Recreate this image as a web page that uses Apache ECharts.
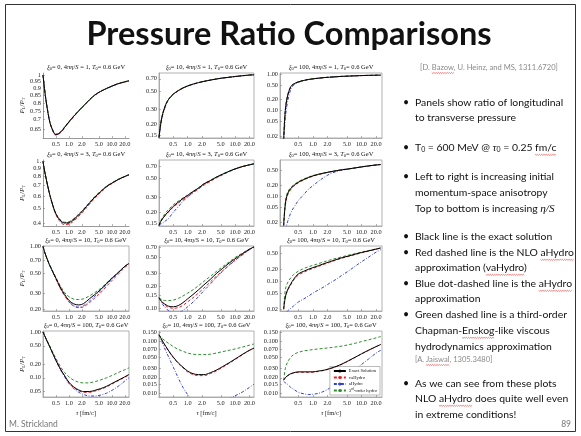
<!DOCTYPE html>
<html><head><meta charset="utf-8">
<script src="https://cdn.jsdelivr.net/npm/echarts@6/dist/echarts.min.js"></script>
<style>html,body{margin:0;padding:0;background:#fff}#c{width:581px;height:436px}</style>
</head><body><div id="c"></div>
<script>
// ---------- DATA ----------
const tau = [0.25,0.27,0.3,0.35,0.4,0.5,0.65,0.8,1,1.3,1.7,2.2,3,4,5.5,7.5,10,14,20,25];
const xTickLabels = ['0.5','1.0','2.0','5.0','10.0','20.0'];
const xi0Values = ['0','10','100'];
const etaValues = ['1','3','10','100'];
const seriesNames = ['Exact Solution','vaHydro','aHydro','3rd-order hydro'];

// row 1 (4πη/S = 1)
const yTicks_r1c1 = ['1','0.95','0.9','0.85','0.8','0.75','0.7','0.65'];
const exact_r1c1 = [1.0,0.90,0.80,0.70,0.655,0.622,0.635,0.66,0.688,0.72,0.752,0.782,0.82,0.852,0.878,0.898,0.915,0.933,0.947,0.955];
const va_r1c1    = [1.0,0.90,0.80,0.70,0.653,0.619,0.632,0.657,0.685,0.717,0.75,0.78,0.818,0.85,0.877,0.897,0.914,0.932,0.946,0.954];
const ah_r1c1    = [1.0,0.90,0.80,0.70,0.654,0.62,0.633,0.658,0.686,0.718,0.751,0.781,0.819,0.851,0.877,0.897,0.914,0.932,0.946,0.954];
const th_r1c1    = [1.0,0.90,0.80,0.701,0.657,0.624,0.637,0.662,0.69,0.722,0.754,0.784,0.821,0.853,0.879,0.899,0.916,0.934,0.948,0.956];

const yTicks_r1c2 = ['0.70','0.50','0.30','0.20','0.15'];
const exact_r1c2 = [0.14,0.2,0.27,0.35,0.40,0.46,0.51,0.545,0.575,0.605,0.63,0.652,0.675,0.695,0.715,0.73,0.745,0.76,0.775,0.78];
const va_r1c2    = [0.14,0.198,0.267,0.347,0.397,0.457,0.507,0.542,0.572,0.602,0.628,0.65,0.673,0.694,0.714,0.729,0.744,0.759,0.774,0.779];
const ah_r1c2    = [0.14,0.19,0.26,0.34,0.395,0.455,0.506,0.542,0.573,0.603,0.629,0.651,0.674,0.694,0.714,0.729,0.744,0.759,0.774,0.779];
const th_r1c2    = [0.14,0.202,0.272,0.352,0.402,0.462,0.511,0.546,0.576,0.606,0.631,0.653,0.676,0.696,0.716,0.731,0.746,0.761,0.776,0.781];

const yTicks_r1c3 = ['1.00','0.50','0.20','0.10','0.05','0.02'];
const exact_r1c3 = [0.016,0.1,0.25,0.45,0.53,0.61,0.67,0.71,0.74,0.77,0.8,0.82,0.845,0.865,0.88,0.895,0.91,0.92,0.93,0.935];
const va_r1c3    = [0.016,0.095,0.24,0.44,0.525,0.605,0.667,0.708,0.738,0.768,0.798,0.819,0.844,0.864,0.879,0.894,0.909,0.919,0.929,0.934];
const ah_r1c3    = [0.014,0.06,0.17,0.38,0.49,0.59,0.66,0.705,0.737,0.768,0.798,0.82,0.845,0.865,0.88,0.895,0.91,0.92,0.93,0.935];
const th_r1c3    = [0.016,0.105,0.26,0.46,0.54,0.615,0.673,0.712,0.742,0.772,0.801,0.821,0.846,0.866,0.881,0.896,0.911,0.921,0.931,0.936];

// row 2 (4πη/S = 3)
const yTicks_r2c1 = ['1.','0.9','0.8','0.7','0.6','0.5','0.4'];
const exact_r2c1 = [1.0,0.88,0.76,0.63,0.55,0.46,0.415,0.403,0.405,0.425,0.455,0.49,0.54,0.59,0.64,0.69,0.725,0.765,0.80,0.82];
const va_r2c1    = [1.0,0.88,0.76,0.628,0.546,0.455,0.405,0.393,0.395,0.415,0.445,0.48,0.53,0.58,0.632,0.683,0.72,0.762,0.798,0.818];
const ah_r2c1    = [1.0,0.88,0.76,0.629,0.548,0.457,0.41,0.398,0.40,0.42,0.45,0.486,0.537,0.588,0.638,0.688,0.724,0.764,0.8,0.82];
const th_r2c1    = [1.0,0.88,0.76,0.631,0.552,0.463,0.418,0.407,0.41,0.43,0.46,0.495,0.545,0.595,0.645,0.693,0.728,0.767,0.802,0.822];

const yTicks_r2c2 = ['0.70','0.50','0.30','0.20','0.15'];
const exact_r2c2 = [0.14,0.155,0.17,0.19,0.205,0.235,0.265,0.29,0.315,0.35,0.385,0.43,0.47,0.515,0.56,0.605,0.645,0.685,0.72,0.74];
const va_r2c2    = [0.14,0.154,0.168,0.187,0.202,0.23,0.258,0.282,0.305,0.34,0.375,0.415,0.46,0.505,0.55,0.598,0.64,0.682,0.718,0.738];
const ah_r2c2    = [0.14,0.145,0.15,0.16,0.17,0.2,0.235,0.27,0.3,0.34,0.378,0.425,0.468,0.513,0.558,0.603,0.644,0.684,0.72,0.74];
const th_r2c2    = [0.14,0.158,0.175,0.2,0.215,0.245,0.272,0.295,0.318,0.352,0.387,0.432,0.472,0.517,0.562,0.607,0.647,0.687,0.722,0.742];

const yTicks_r2c3 = ['0.50','0.20','0.10','0.05','0.02'];
const exact_r2c3 = [0.016,0.06,0.115,0.16,0.19,0.235,0.28,0.315,0.35,0.385,0.418,0.448,0.482,0.512,0.542,0.577,0.612,0.652,0.69,0.71];
const va_r2c3    = [0.016,0.055,0.105,0.15,0.182,0.227,0.272,0.307,0.343,0.378,0.411,0.443,0.478,0.509,0.54,0.575,0.61,0.65,0.688,0.708];
const ah_r2c3    = [0.008,0.012,0.02,0.035,0.048,0.075,0.11,0.15,0.19,0.25,0.32,0.39,0.455,0.5,0.535,0.572,0.608,0.648,0.688,0.708];
const th_r2c3    = [0.016,0.068,0.125,0.17,0.2,0.245,0.29,0.323,0.357,0.39,0.422,0.452,0.486,0.516,0.545,0.58,0.614,0.654,0.692,0.712];

// row 3 (4πη/S = 10)
const yTicks_r3c1 = ['1.00','0.70','0.50','0.30','0.20'];
const exact_r3c1 = [1.0,0.88,0.76,0.63,0.55,0.44,0.34,0.29,0.25,0.228,0.222,0.23,0.26,0.29,0.33,0.385,0.44,0.51,0.6,0.645];
const va_r3c1    = [1.0,0.88,0.76,0.628,0.546,0.433,0.33,0.28,0.24,0.215,0.207,0.212,0.235,0.265,0.305,0.358,0.415,0.488,0.582,0.63];
const ah_r3c1    = [1.0,0.88,0.76,0.629,0.547,0.435,0.333,0.283,0.243,0.218,0.21,0.218,0.245,0.277,0.32,0.375,0.432,0.505,0.595,0.642];
const th_r3c1    = [1.0,0.88,0.76,0.632,0.555,0.45,0.355,0.305,0.275,0.258,0.255,0.26,0.28,0.305,0.34,0.39,0.445,0.512,0.598,0.643];

const yTicks_r3c2 = ['0.70','0.50','0.30','0.20','0.15','0.10'];
const exact_r3c2 = [0.14,0.13,0.12,0.112,0.107,0.105,0.11,0.12,0.135,0.155,0.18,0.21,0.25,0.3,0.355,0.42,0.48,0.56,0.65,0.7];
const va_r3c2    = [0.14,0.129,0.118,0.108,0.103,0.1,0.103,0.11,0.123,0.14,0.163,0.19,0.23,0.275,0.33,0.395,0.46,0.54,0.64,0.695];
const ah_r3c2    = [0.14,0.127,0.113,0.1,0.093,0.088,0.088,0.094,0.105,0.122,0.145,0.175,0.215,0.265,0.325,0.39,0.455,0.54,0.64,0.695];
const th_r3c2    = [0.14,0.136,0.13,0.128,0.128,0.13,0.138,0.148,0.162,0.18,0.205,0.235,0.275,0.32,0.375,0.435,0.5,0.57,0.655,0.7];

const yTicks_r3c3 = ['0.50','0.20','0.10','0.05','0.02'];
const exact_r3c3 = [0.02,0.04,0.06,0.085,0.11,0.15,0.175,0.195,0.215,0.24,0.27,0.3,0.34,0.38,0.42,0.465,0.51,0.56,0.62,0.66];
const va_r3c3    = [0.02,0.038,0.057,0.08,0.105,0.14,0.165,0.185,0.205,0.23,0.26,0.29,0.33,0.37,0.41,0.455,0.5,0.55,0.615,0.655];
const ah_r3c3    = [0.012,0.015,0.018,0.021,0.024,0.03,0.036,0.042,0.05,0.06,0.072,0.088,0.11,0.14,0.18,0.235,0.3,0.39,0.52,0.6];
const th_r3c3    = [0.02,0.06,0.09,0.12,0.145,0.175,0.205,0.225,0.245,0.27,0.3,0.33,0.365,0.4,0.44,0.48,0.52,0.57,0.625,0.665];

// row 4 (4πη/S = 100)
const yTicks_r4c1 = ['1.00','0.50','0.20','0.10','0.05'];
const exact_r4c1 = [1.0,0.85,0.68,0.5,0.38,0.24,0.15,0.11,0.08,0.063,0.054,0.05,0.05,0.053,0.058,0.065,0.075,0.088,0.105,0.118];
const va_r4c1    = [1.0,0.85,0.68,0.5,0.378,0.238,0.148,0.108,0.078,0.061,0.052,0.048,0.048,0.051,0.056,0.063,0.073,0.086,0.103,0.116];
const ah_r4c1    = [1.0,0.85,0.68,0.5,0.378,0.236,0.145,0.104,0.075,0.058,0.048,0.043,0.04,0.04,0.042,0.046,0.053,0.065,0.085,0.1];
const th_r4c1    = [1.0,0.85,0.69,0.52,0.4,0.265,0.17,0.13,0.105,0.088,0.08,0.077,0.078,0.082,0.09,0.1,0.112,0.13,0.15,0.165];

const yTicks_r4c2 = ['0.150','0.100','0.070','0.050','0.030','0.020','0.015','0.010'];
const exact_r4c2 = [0.135,0.12,0.1,0.08,0.066,0.05,0.038,0.032,0.027,0.024,0.023,0.023,0.025,0.028,0.033,0.039,0.046,0.056,0.068,0.075];
const va_r4c2    = [0.135,0.119,0.099,0.079,0.065,0.049,0.037,0.031,0.026,0.023,0.022,0.022,0.024,0.027,0.032,0.038,0.045,0.055,0.067,0.074];
const ah_r4c2    = [0.135,0.115,0.09,0.065,0.05,0.032,0.019,0.013,0.0095,0.0072,0.0063,0.006,0.0061,0.0064,0.007,0.0078,0.009,0.0105,0.013,0.015];
const th_r4c2    = [0.135,0.125,0.113,0.1,0.092,0.08,0.07,0.065,0.06,0.057,0.056,0.056,0.057,0.06,0.064,0.068,0.072,0.078,0.085,0.09];

const yTicks_r4c3 = ['0.150','0.100','0.070','0.050','0.030','0.020','0.015','0.010'];
const exact_r4c3 = [0.018,0.02,0.022,0.024,0.025,0.026,0.026,0.026,0.026,0.027,0.028,0.03,0.033,0.037,0.043,0.05,0.058,0.068,0.08,0.088];
const va_r4c3    = [0.018,0.0198,0.0217,0.0236,0.0246,0.0255,0.0255,0.0255,0.0256,0.0266,0.0277,0.0297,0.0327,0.0367,0.0427,0.0497,0.0577,0.0677,0.0797,0.0877];
const ah_r4c3    = [0.017,0.016,0.015,0.013,0.012,0.0105,0.0098,0.0095,0.0096,0.01,0.011,0.0125,0.015,0.018,0.023,0.029,0.036,0.046,0.06,0.068];
const th_r4c3    = [0.018,0.03,0.04,0.05,0.056,0.062,0.066,0.068,0.07,0.072,0.074,0.076,0.079,0.082,0.087,0.093,0.1,0.108,0.118,0.125];

// ---------- LAYOUT ----------
const colLeft = [43,159,280], colWidth = [86,95,102];
const rowTop = [73,160,246,331], rowHeight = [65,66,65,66];
const xRanges = [[0.25,25],[0.25,25],[0.21,26.5]];
const yRanges = [
  [[0.605,1.016],[0.138,0.82],[0.0176,1.07]],
  [[0.385,1.02],[0.138,0.82],[0.0155,0.94]],
  [[0.19,1.01],[0.092,0.72],[0.018,0.74]],
  [[0.038,1.05],[0.0085,0.16],[0.0085,0.16]]
];
const framed = [[false,true,true],[false,true,true],[true,true,true],[true,true,true]];
const D = {
  r1c1:[exact_r1c1,va_r1c1,ah_r1c1,th_r1c1,yTicks_r1c1], r1c2:[exact_r1c2,va_r1c2,ah_r1c2,th_r1c2,yTicks_r1c2], r1c3:[exact_r1c3,va_r1c3,ah_r1c3,th_r1c3,yTicks_r1c3],
  r2c1:[exact_r2c1,va_r2c1,ah_r2c1,th_r2c1,yTicks_r2c1], r2c2:[exact_r2c2,va_r2c2,ah_r2c2,th_r2c2,yTicks_r2c2], r2c3:[exact_r2c3,va_r2c3,ah_r2c3,th_r2c3,yTicks_r2c3],
  r3c1:[exact_r3c1,va_r3c1,ah_r3c1,th_r3c1,yTicks_r3c1], r3c2:[exact_r3c2,va_r3c2,ah_r3c2,th_r3c2,yTicks_r3c2], r3c3:[exact_r3c3,va_r3c3,ah_r3c3,th_r3c3,yTicks_r3c3],
  r4c1:[exact_r4c1,va_r4c1,ah_r4c1,th_r4c1,yTicks_r4c1], r4c2:[exact_r4c2,va_r4c2,ah_r4c2,th_r4c2,yTicks_r4c2], r4c3:[exact_r4c3,va_r4c3,ah_r4c3,th_r4c3,yTicks_r4c3]
};
const lineStyles = [
  {color:'#000000', type:'solid', z:6, width:1},
  {color:'#e3242b', type:[3,2], z:4, width:1},
  {color:'#3340d8', type:[3,1.6,0.8,1.6], z:3, width:1},
  {color:'#2f8f2f', type:[3,2], z:5, width:1}
];
const SERIF = "'Liberation Serif','DejaVu Serif',serif";
const SANS = "Lato,'Liberation Sans',sans-serif";
const BODY = 10.4;

const lg = v => Math.log10(v);
function nearest(labels, v){let b=labels[0],bd=1e9;labels.forEach(s=>{const d=Math.abs(lg(parseFloat(s))-v);if(d<bd){bd=d;b=s;}});return b;}

const grids=[], xAxes=[], yAxes=[], series=[], graphics=[];
const subRich = {i:{fontStyle:'italic',fontFamily:SERIF,fontSize:6.5}, s:{fontSize:4.5,fontFamily:SERIF,verticalAlign:'bottom',padding:[3,0,0,0]}, n:{fontFamily:SERIF,fontSize:6.5}};
let idx=0;
for(let r=0;r<4;r++){
  for(let c=0;c<3;c++){
    const key='r'+(r+1)+'c'+(c+1);
    const d=D[key];
    const yt=d[4];
    grids.push({left:colLeft[c], top:rowTop[r], width:colWidth[c], height:rowHeight[r], show:framed[r][c], borderColor:'#a0a0a0', borderWidth:0.8, containLabel:false});
    const xVals = xTickLabels.map(s=>lg(parseFloat(s)));
    xAxes.push({gridIndex:idx, type:'value', min:lg(xRanges[c][0]), max:lg(xRanges[c][1]),
      axisLine:{show:true,onZero:false,lineStyle:{color:framed[r][c]?'#a0a0a0':'#808080',width:0.8}},
      axisTick:{show:true,inside:true,length:2,customValues:xVals,lineStyle:{color:'#808080',width:0.6}},
      axisLabel:{customValues:xVals,formatter:v=>nearest(xTickLabels,v),fontFamily:SERIF,fontSize:6.3,color:'#222',margin:3},
      splitLine:{show:false},
      name: r===3?'{i|τ} [fm/c]':'', nameLocation:'middle', nameGap:13,
      nameTextStyle:{fontFamily:SERIF,fontSize:6.5,color:'#222',rich:{i:{fontStyle:'italic',fontFamily:SERIF,fontSize:6.5}}}
    });
    const yVals = yt.map(s=>lg(parseFloat(s)));
    yAxes.push({gridIndex:idx, type:'value', min:lg(yRanges[r][c][0]), max:lg(yRanges[r][c][1]),
      axisLine:{show:true,onZero:false,lineStyle:{color:framed[r][c]?'#a0a0a0':'#808080',width:0.8}},
      axisTick:{show:true,inside:true,length:2,customValues:yVals,lineStyle:{color:'#808080',width:0.6}},
      axisLabel:{customValues:yVals,formatter:v=>nearest(yt,v),fontFamily:SERIF,fontSize:6.3,color:'#222',margin:2},
      splitLine:{show:false},
      name: c===0?'{i|P}{s|L}/{i|P}{s|T}':'', nameLocation:'middle', nameRotate:90, nameGap:17,
      nameTextStyle:{fontFamily:SERIF,fontSize:7,color:'#222',rich:{i:{fontStyle:'italic',fontFamily:SERIF,fontSize:7},s:{fontSize:4.5,fontFamily:SERIF,verticalAlign:'bottom'}}}
    });
    for(let k=3;k>=0;k--){
      const st=lineStyles[k];
      series.push({type:'line', name:seriesNames[k], xAxisIndex:idx, yAxisIndex:idx, showSymbol:false, symbol:'none', smooth:0.35,
        z:st.z, clip:true, silent:true,
        data: tau.map((t,j)=>[lg(t), lg(d[k][j])]),
        lineStyle:{color:st.color,width:st.width,type:st.type}, itemStyle:{color:st.color}});
    }
    graphics.push({type:'text', x:colLeft[c]+colWidth[c]/2, y:rowTop[r]-5.5,
      style:{text:'{i|ξ}{s|0}{n|= '+xi0Values[c]+', 4π}{i|η}{n|/}{i|S}{n| = '+etaValues[r]+', }{i|T}{s|0}{n|= 0.6 GeV}', rich:subRich,
        fontFamily:SERIF, fontSize:6.5, fill:'#111', align:'center', verticalAlign:'middle'}});
    idx++;
  }
}

// ---------- slide frame and texts ----------
const mctx = document.createElement('canvas').getContext('2d');
function tw(str, size, family, style){ mctx.font=(style||'')+' '+size+'px '+family; return mctx.measureText(str).width; }
function squiggle(x0, x1, y){
  const pts=[]; let k=0;
  for(let x=x0; x<=x1+0.01; x+=1.1, k++) pts.push([x, y + (k%2 ? 1 : 0)]);
  graphics.push({type:'polyline', shape:{points:pts}, style:{stroke:'#e0302a', lineWidth:0.6, fill:null}, z:10});
}

graphics.push({type:'rect', shape:{x:5.5,y:4.5,width:570,height:427}, style:{fill:'none',stroke:'#333',lineWidth:1}, z:-1});
graphics.push({type:'text', x:289, y:35, style:{text:'Pressure Ratio Comparisons', fontFamily:SANS, fontWeight:'bold', fontSize:32.5, fill:'#111', align:'center', verticalAlign:'middle'}});

const citeText = '[D. Bazow, U. Heinz, and MS, 1311.6720]';
const citeW = tw(citeText, 7.6, 'Lato');
graphics.push({type:'text', x:489, y:68, style:{text:citeText, fontFamily:SANS, fontSize:7.6, fill:'#8a8a8a', align:'center', verticalAlign:'middle'}});
{ const x0 = 489 - citeW/2 + tw('[D. ', 7.6, 'Lato'); squiggle(x0, x0 + tw('Bazow', 7.6, 'Lato'), 72.5); }

const TX = 415, BX = 403;
const bodyLines = [
  [103,'Panels show ratio of longitudinal',true,null],
  [118,'to transverse pressure',false,null],
  [148,'T{s|0} = 600 MeV @ {m|τ}{s|0} = 0.25 fm/c',true,'fm/c'],
  [177,'Left to right is increasing initial',true,null],
  [193,'momentum-space anisotropy',false,null],
  [209,'Top to bottom is increasing {m|η/S}',false,null],
  [237,'Black line is the exact solution',true,null],
  [253,'Red dashed line is the NLO aHydro',true,'aHydro'],
  [268,'approximation (vaHydro)',false,'vaHydro'],
  [284,'Blue dot-dashed line is the aHydro',true,'aHydro'],
  [299,'approximation',false,null],
  [315,'Green dashed line is a third-order',true,null],
  [331,'Chapman-Enskog-like viscous',false,'Enskog'],
  [347,'hydrodynamics approximation',false,null],
  [384,'As we can see from these plots',true,null],
  [399,'NLO aHydro does quite well even',false,'aHydro'],
  [415,'in extreme conditions!',false,null]
];
bodyLines.forEach(([y,t,b,sq])=>{
  graphics.push({type:'text', x:TX, y:y, style:{text:t, rich:{s:{fontSize:7,fontFamily:SANS,verticalAlign:'bottom',padding:[4,0,0,0]}, m:{fontFamily:SERIF,fontStyle:'italic',fontSize:11.2}},
    fontFamily:SANS, fontSize:BODY, fill:'#111', align:'left', verticalAlign:'middle'}});
  if(b) graphics.push({type:'text', x:BX, y:y, style:{text:'•', fontFamily:SANS, fontSize:10.5, fill:'#111', align:'left', verticalAlign:'middle'}});
  if(sq){
    let x0;
    if(sq==='fm/c'){
      x0 = TX + tw('T',BODY,'Lato') + tw('0',7,'Lato') + tw(' = 600 MeV @ ',BODY,'Lato') + tw('τ',11.2,'Liberation Serif','italic') + tw('0',7,'Lato') + tw(' = 0.25 ',BODY,'Lato');
    } else {
      const pos = t.indexOf(sq);
      x0 = TX + tw(t.slice(0,pos), BODY, 'Lato');
    }
    squiggle(x0, x0 + tw(sq, BODY, 'Lato'), y + 6.3);
  }
});
const jText = '[A. Jaiswal, 1305.3480]';
graphics.push({type:'text', x:TX, y:360, style:{text:jText, fontFamily:SANS, fontSize:7.6, fill:'#8a8a8a', align:'left', verticalAlign:'middle'}});
{ const x0 = TX + tw('[A. ', 7.6, 'Lato'); squiggle(x0, x0 + tw('Jaiswal', 7.6, 'Lato'), 364.5); }
graphics.push({type:'text', x:9, y:424, style:{text:'M. Strickland', fontFamily:SANS, fontSize:8.5, fill:'#777', align:'left', verticalAlign:'middle'}});
graphics.push({type:'text', x:571, y:424, style:{text:'89', fontFamily:SANS, fontSize:8.5, fill:'#777', align:'right', verticalAlign:'middle'}});

const chart = echarts.init(document.getElementById('c'), null, {renderer:'canvas'});
chart.setOption({
  animation:false,
  backgroundColor:'#ffffff',
  grid:grids, xAxis:xAxes, yAxis:yAxes, series:series,
  legend:{data:seriesNames, orient:'vertical', right:581-(colLeft[2]+colWidth[2])+2, bottom:436-(rowTop[3]+rowHeight[3])+2,
    itemWidth:12, itemHeight:4, itemGap:1.5, padding:[2,3,2,3], borderColor:'#777', borderWidth:0.5, backgroundColor:'#fff',
    selectedMode:false,
    formatter: n => n==='3rd-order hydro' ? '3{sup|rd}-order hydro' : n,
    textStyle:{fontFamily:SERIF,fontSize:4.6,color:'#111',padding:[0,0,0,-2],rich:{sup:{fontSize:3.3,verticalAlign:'top',fontFamily:SERIF}}}},
  graphic:graphics
});
</script></body></html>
